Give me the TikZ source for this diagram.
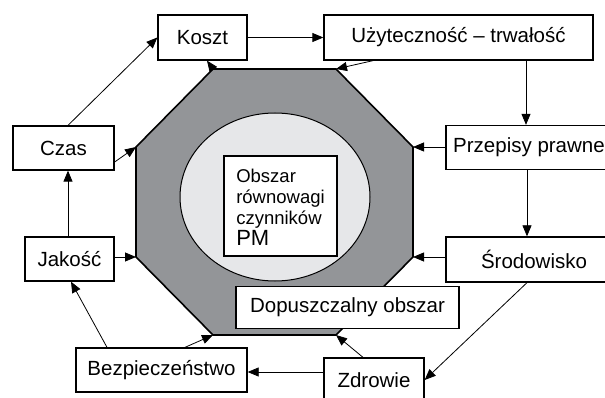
\documentclass[tikz,border=0pt]{standalone}
\usepackage{fontspec}
\setmainfont{Liberation Sans}
\usetikzlibrary{arrows.meta}
\definecolor{octfill}{HTML}{939598}
\definecolor{ellfill}{HTML}{E6E7E9}
\tikzset{
  factor/.style={draw=black, line width=1.3pt, fill=white, inner sep=0pt,
    font=\fontsize{20.5}{24}\selectfont},
  link/.style={line width=0.8pt, -{Triangle[length=11pt,width=9pt]}},
}
\begin{document}
\begin{tikzpicture}[x=1pt,y=-1pt]
\clip (0,0) rectangle (605,398);
\fill[white] (0,0) rectangle (605,398);

% octagon corners
\coordinate (T1) at (213,69);
\coordinate (T2) at (336,69);
\coordinate (R1) at (413,147);
\coordinate (R2) at (413,257);
\coordinate (B2) at (336,335);
\coordinate (B1) at (213,335);
\coordinate (L2) at (136,257);
\coordinate (L1) at (136,147);

\draw[fill=octfill, line width=1.6pt, line join=miter]
  (T1) -- (T2) -- (R1) -- (R2) -- (B2) -- (B1) -- (L2) -- (L1) -- cycle;
\draw[fill=ellfill, line width=1pt] (275,197) ellipse [x radius=95, y radius=84];

\node[factor, minimum width=113pt, minimum height=100pt] (core) at (280.5,206) {};
\node[align=left, inner sep=0pt, font=\fontsize{18.5}{21}\selectfont] (coretext) at (280.5,207)
  {Obszar\\równowagi\\czynników\\{\fontsize{22}{21}\selectfont PM}};

\node[factor, minimum width=223pt, minimum height=42pt] (dop) at (347.5,307.5) {Dopuszczalny obszar};

% factor boxes
\node[factor, minimum width=89pt, minimum height=45pt] (koszt) at (202.5,37.5) {Koszt};
\node[factor, minimum width=269pt, minimum height=45pt] (uzyt) at (458.5,37.5) {Użyteczność – trwałość};
\node[factor, minimum width=166pt, minimum height=44pt] (przep) at (529,147.5) {Przepisy prawne};
\node[factor, minimum width=176pt, minimum height=45pt] (srod) at (534,259.5) {Środowisko};
\node[factor, minimum width=100pt, minimum height=44pt] (zdrow) at (374,380) {Zdrowie};
\node[factor, minimum width=171pt, minimum height=44pt] (bezp) at (161.5,370) {Bezpieczeństwo};
\node[factor, minimum width=89pt, minimum height=44pt] (jakosc) at (69.5,259) {Jakość};
\node[factor, minimum width=101pt, minimum height=44pt] (czas) at (63.5,148) {Czas};

% connectors
\draw[link] ([xshift=4.5pt]czas.north) -- (koszt.west);
\draw[link] (koszt.east) -- (uzyt.west);
\draw[link] ([xshift=-85.5pt]uzyt.south) -- (T2);
\draw[link] (T1) -- ([xshift=4.5pt]koszt.south);
\draw[link] ([xshift=-3pt]przep.north |- uzyt.south) -- ([xshift=-3pt]przep.north);
\draw[link] (przep.west |- R1) -- (R1);
\draw[link] ([xshift=-7pt]srod.north |- przep.south) -- ([xshift=-7pt]srod.north);
\draw[link] (srod.west |- R2) -- (R2);
\draw[link] ([xshift=-7pt]srod.south) -- (zdrow.east);
\draw[link] ([xshift=-11pt]zdrow.north) -- (B2);
\draw[link] ([yshift=8pt]zdrow.west) -- ([yshift=8pt]zdrow.west -| bezp.east);
\draw[link] ([xshift=23.5pt]bezp.north) -- (B1);
\draw[link] ([xshift=-54.5pt]bezp.north) -- ([xshift=1.5pt]jakosc.south);
\draw[link] (jakosc.east |- L2) -- (L2);
\draw[link] ([xshift=-1.5pt]jakosc.north) -- ([xshift=4.5pt]czas.south);
\draw[link] ([yshift=-14pt]czas.east) -- (L1);
\end{tikzpicture}
\end{document}
